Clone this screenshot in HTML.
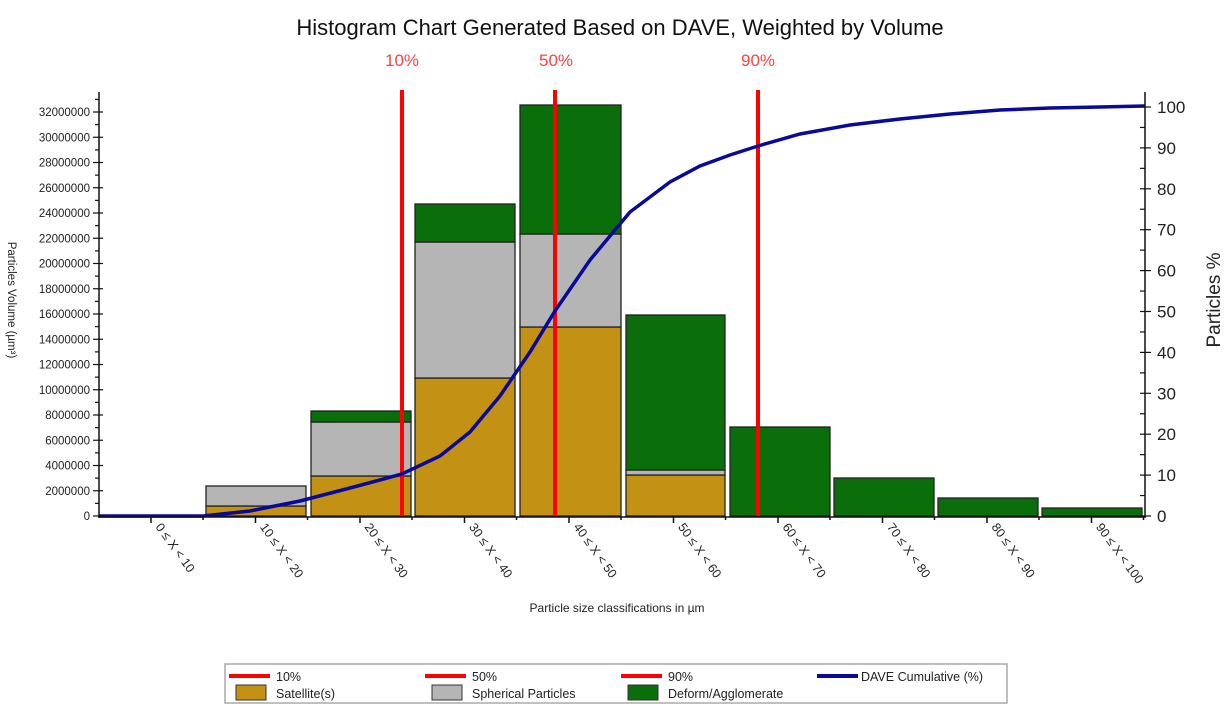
<!DOCTYPE html>
<html><head><meta charset="utf-8"><style>
html,body{margin:0;padding:0;background:#fff;}
svg{display:block;font-family:"Liberation Sans",Arial,sans-serif;}
</style></head><body>
<svg width="1228" height="711" viewBox="0 0 1228 711" xmlns="http://www.w3.org/2000/svg">
<text x="620" y="35" font-size="22" text-anchor="middle" fill="#111">Histogram Chart Generated Based on DAVE, Weighted by Volume</text>
<text x="402" y="66" font-size="17" text-anchor="middle" fill="#ff4040">10%</text>
<text x="556" y="66" font-size="17" text-anchor="middle" fill="#ff4040">50%</text>
<text x="758" y="66" font-size="17" text-anchor="middle" fill="#ff4040">90%</text>

<g stroke="#222" stroke-width="1.3">
<rect x="206" y="506" width="100" height="10" fill="#c39114"/>
<rect x="206" y="486" width="100" height="20" fill="#b5b5b5"/>
<rect x="311" y="476" width="100" height="40" fill="#c39114"/>
<rect x="311" y="422" width="100" height="54" fill="#b5b5b5"/>
<rect x="311" y="411" width="100" height="11" fill="#0a6e0a"/>
<rect x="415" y="378" width="100" height="138" fill="#c39114"/>
<rect x="415" y="242" width="100" height="136" fill="#b5b5b5"/>
<rect x="415" y="204" width="100" height="38" fill="#0a6e0a"/>
<rect x="520" y="327" width="101" height="189" fill="#c39114"/>
<rect x="520" y="234" width="101" height="93" fill="#b5b5b5"/>
<rect x="520" y="105" width="101" height="129" fill="#0a6e0a"/>
<rect x="626" y="475" width="99" height="41" fill="#c39114"/>
<rect x="626" y="470" width="99" height="5" fill="#b5b5b5"/>
<rect x="626" y="315" width="99" height="155" fill="#0a6e0a"/>
<rect x="730" y="427" width="100" height="89" fill="#0a6e0a"/>
<rect x="834" y="478" width="100" height="38" fill="#0a6e0a"/>
<rect x="938" y="498" width="100" height="18" fill="#0a6e0a"/>
<rect x="1042" y="508" width="100" height="8" fill="#0a6e0a"/>
</g>

<g stroke="#ff0000" stroke-width="4">
<line x1="402" y1="90" x2="402" y2="516"/>
<line x1="555" y1="90" x2="555" y2="516"/>
<line x1="758" y1="90" x2="758" y2="516"/>
</g>

<polyline fill="none" stroke="#0a0a9a" stroke-width="3.5" points="99,516 203,516 250,511 300,501 350,488 402,474 440,456 470,432 500,396 530,352 555,311 590,260 630,212 670,182 700,166 730,155 758,146 800,134 850,125 900,119 950,114 1000,110 1050,108 1100,107 1145,106"/>

<g stroke="#111" stroke-width="1.5">
<line x1="99" y1="92" x2="99" y2="517"/>
<line x1="98" y1="517" x2="1146" y2="517"/>
<line x1="1145" y1="92" x2="1145" y2="517"/>
</g>
<g stroke="#111" stroke-width="1.2" id="lt"></g>
<g font-size="11.5" fill="#222" text-anchor="end" id="ll"></g>
<g stroke="#111" stroke-width="1.2" id="rt"></g>
<g font-size="17" fill="#222" id="rl"></g>
<g stroke="#111" stroke-width="1.5" id="xt"></g>
<g font-size="12.5" fill="#222" id="xl"></g>

<text transform="translate(8,300) rotate(90)" font-size="11.5" fill="#222" text-anchor="middle">Particles Volume (µm³)</text>
<text transform="translate(1220,300) rotate(-90)" font-size="19" fill="#222" text-anchor="middle">Particles %</text>
<text x="617" y="612" font-size="12" fill="#222" text-anchor="middle">Particle size classifications in µm</text>

<rect x="225" y="664" width="782" height="39" fill="#fff" stroke="#aaa" stroke-width="1.5"/>
<g stroke-width="4">
<line x1="229" y1="676" x2="270" y2="676" stroke="#ff0000"/>
<line x1="425" y1="676" x2="466" y2="676" stroke="#ff0000"/>
<line x1="621" y1="676" x2="662" y2="676" stroke="#ff0000"/>
<line x1="817" y1="676" x2="858" y2="676" stroke="#0a0a9a"/>
</g>
<g stroke="#333" stroke-width="1">
<rect x="236" y="685" width="30" height="15" fill="#c39114"/>
<rect x="432" y="685" width="30" height="15" fill="#b5b5b5"/>
<rect x="628" y="685" width="30" height="15" fill="#0a6e0a"/>
</g>
<g font-size="12.5" fill="#222">
<text x="276" y="681">10%</text>
<text x="472" y="681">50%</text>
<text x="668" y="681">90%</text>
<text x="861" y="681">DAVE Cumulative (%)</text>
<text x="276" y="698">Satellite(s)</text>
<text x="472" y="698">Spherical Particles</text>
<text x="668" y="698">Deform/Agglomerate</text>
</g>
</svg>
<script>
var NS="http://www.w3.org/2000/svg";
function el(g,t,a,txt){var e=document.createElementNS(NS,t);for(var k in a)e.setAttribute(k,a[k]);if(txt!==undefined)e.textContent=txt;document.getElementById(g).appendChild(e);}
for(var i=0;i<=33;i++){var y=516-i*12.625;var maj=i%2==0;el("lt","line",{x1:maj?93:95,y1:y,x2:maj?103:99,y2:y});if(maj)el("ll","text",{x:90,y:y+4},String(i*1000000));}
for(var i=0;i<=20;i++){var y=516-i*5*4.09;var maj=i%2==0;el("rt","line",{x1:1140,y1:y,x2:maj?1151:1145,y2:y});if(maj)el("rl","text",{x:1157,y:y+6},String(i*5));}
var labs=["0 ≤ X < 10","10 ≤ X < 20","20 ≤ X < 30","30 ≤ X < 40","40 ≤ X < 50","50 ≤ X < 60","60 ≤ X < 70","70 ≤ X < 80","80 ≤ X < 90","90 ≤ X < 100"];
for(var i=0;i<10;i++){var cx=151+i*104.5;el("xt","line",{x1:cx,y1:517,x2:cx,y2:523});el("xt","line",{x1:cx+52,y1:517,x2:cx+52,y2:520});el("xl","text",{transform:"translate("+(cx+4)+",527) rotate(54)"},labs[i]);}
</script>
</body></html>
